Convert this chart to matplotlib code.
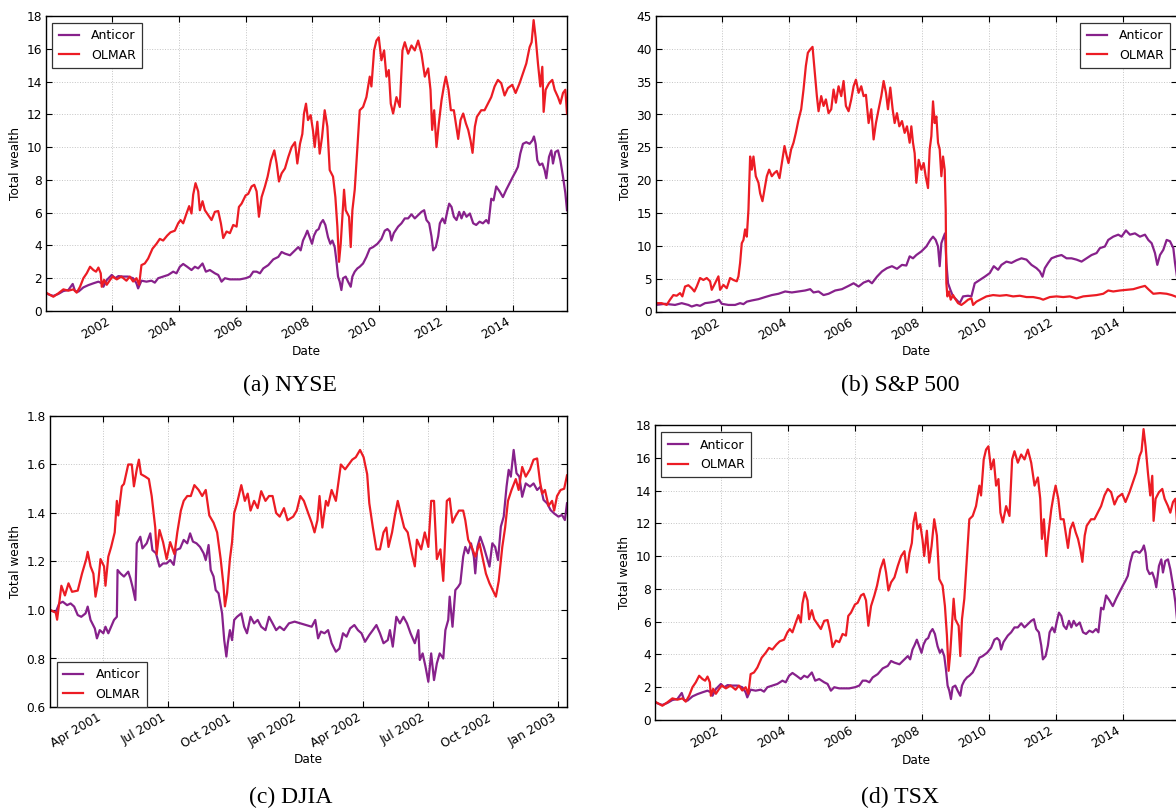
import numpy as np
import pandas as pd
import matplotlib
matplotlib.use('Agg')
import matplotlib.pyplot as plt
import matplotlib.dates as mdates

# ---- NYSE (also shown as TSX) ----
nyse_olmar_years = [2000.02, 2000.14, 2000.24, 2000.39, 2000.54, 2000.69, 2000.84, 2000.94, 2001.04, 2001.14,
                    2001.24, 2001.34, 2001.44, 2001.52, 2001.59, 2001.66, 2001.69, 2001.76, 2001.84, 2001.94,
                    2002.02, 2002.14, 2002.28, 2002.43, 2002.53, 2002.63, 2002.73, 2002.81, 2002.88, 2002.98,
                    2003.08, 2003.21, 2003.33, 2003.43, 2003.53, 2003.65, 2003.75, 2003.88, 2003.98, 2004.05,
                    2004.13, 2004.23, 2004.31, 2004.38, 2004.43, 2004.50, 2004.58, 2004.63, 2004.71, 2004.78,
                    2004.88, 2004.98, 2005.08, 2005.18, 2005.26, 2005.33, 2005.43, 2005.53, 2005.63, 2005.73,
                    2005.80, 2005.88, 2006.00, 2006.08, 2006.18, 2006.26, 2006.33, 2006.40, 2006.48, 2006.58,
                    2006.66, 2006.76, 2006.86, 2006.93, 2007.00, 2007.08, 2007.18, 2007.28, 2007.38, 2007.48,
                    2007.55, 2007.63, 2007.70, 2007.75, 2007.81, 2007.87, 2007.95, 2008.02, 2008.07, 2008.15,
                    2008.22, 2008.29, 2008.37, 2008.45, 2008.52, 2008.62, 2008.69, 2008.75, 2008.80, 2008.85,
                    2008.90, 2008.95, 2009.00, 2009.05, 2009.10, 2009.15, 2009.20, 2009.27, 2009.35, 2009.42,
                    2009.52, 2009.62, 2009.72, 2009.77, 2009.85, 2009.92, 2009.99, 2010.07, 2010.15, 2010.22,
                    2010.29, 2010.35, 2010.42, 2010.52, 2010.62, 2010.70, 2010.77, 2010.87, 2010.97, 2011.07,
                    2011.17, 2011.27, 2011.37, 2011.47, 2011.54, 2011.59, 2011.65, 2011.72, 2011.79, 2011.87,
                    2011.94, 2012.00, 2012.08, 2012.15, 2012.24, 2012.30, 2012.37, 2012.44, 2012.52, 2012.60,
                    2012.67, 2012.74, 2012.80, 2012.87, 2012.93, 2013.06, 2013.16, 2013.26, 2013.36, 2013.46,
                    2013.56, 2013.66, 2013.76, 2013.86, 2013.99, 2014.09, 2014.21, 2014.31, 2014.41, 2014.51,
                    2014.57, 2014.63, 2014.69, 2014.76, 2014.83, 2014.89, 2014.93, 2014.99, 2015.09, 2015.19,
                    2015.26, 2015.36, 2015.43, 2015.51, 2015.58, 2015.63]
nyse_olmar = [1.12, 0.98, 0.87, 1.08, 1.32, 1.24, 1.32, 1.12, 1.48, 2.0,
              2.3, 2.7, 2.5, 2.4, 2.65, 2.3, 1.48, 1.9, 1.6, 1.9,
              2.1, 1.93, 2.1, 1.85, 2.1, 1.8, 2.0, 1.6, 2.8, 2.9,
              3.2, 3.8, 4.1, 4.4, 4.3, 4.6, 4.8, 4.9, 5.35, 5.55,
              5.35, 5.95, 6.4, 5.95, 7.1, 7.8, 7.3, 6.15, 6.7, 6.15,
              5.85, 5.55, 6.05, 6.1, 5.35, 4.45, 4.85, 4.75, 5.25, 5.15,
              6.35, 6.55, 7.05, 7.15, 7.6, 7.7, 7.3, 5.75, 6.95, 7.6,
              8.2, 9.2, 9.8, 9.0, 7.9, 8.4, 8.7, 9.4, 10.0, 10.3,
              9.0, 10.2, 10.8, 12.05, 12.65, 11.65, 11.95, 11.0, 10.0, 11.55,
              9.6, 10.6, 12.25, 11.25, 8.6, 8.2, 6.95, 5.15, 3.0, 4.1,
              5.75, 7.4, 6.15, 5.95, 5.75, 3.9, 6.15, 7.4, 10.0, 12.25,
              12.45, 13.05, 14.3, 13.7, 15.9, 16.5, 16.7, 15.3, 15.9, 14.3,
              14.7, 12.65, 12.05, 13.05, 12.45, 15.9, 16.4, 15.7, 16.2, 15.9,
              16.5, 15.7, 14.3, 14.8, 13.5, 11.05, 12.25, 10.0, 11.45, 12.85,
              13.7, 14.3, 13.5, 12.25, 12.25, 11.45, 10.5, 11.65, 12.05, 11.45,
              11.05, 10.4, 9.65, 11.25, 11.85, 12.25, 12.25, 12.65, 13.05, 13.7,
              14.1, 13.9, 13.15, 13.6, 13.8, 13.3, 13.9, 14.5, 15.1, 16.1,
              16.4, 17.75, 16.7, 15.1, 13.7, 14.9, 12.15, 13.5, 13.9, 14.1,
              13.5, 13.05, 12.65, 13.3, 13.5, 12.05]

nyse_anticor_years = [2000.02, 2000.14, 2000.24, 2000.39, 2000.54, 2000.69, 2000.82, 2000.89, 2000.99, 2001.14,
                      2001.29, 2001.44, 2001.59, 2001.69, 2001.74, 2001.84, 2001.99, 2002.09, 2002.19, 2002.33,
                      2002.48, 2002.63, 2002.73, 2002.78, 2002.88, 2003.03, 2003.18, 2003.28, 2003.38, 2003.53,
                      2003.68, 2003.83, 2003.93, 2004.03, 2004.13, 2004.25, 2004.38, 2004.48, 2004.58, 2004.71,
                      2004.81, 2004.93, 2005.08, 2005.18, 2005.28, 2005.38, 2005.53, 2005.68, 2005.83, 2006.00,
                      2006.13, 2006.23, 2006.33, 2006.43, 2006.53, 2006.68, 2006.83, 2006.98, 2007.08, 2007.18,
                      2007.33, 2007.48, 2007.58, 2007.65, 2007.72, 2007.79, 2007.85, 2007.92, 2007.99, 2008.05,
                      2008.12, 2008.19, 2008.25, 2008.32, 2008.39, 2008.47, 2008.54, 2008.60, 2008.67, 2008.72,
                      2008.77, 2008.82, 2008.87, 2008.92, 2009.00, 2009.07, 2009.15, 2009.20, 2009.27, 2009.35,
                      2009.42, 2009.52, 2009.62, 2009.72, 2009.82, 2009.95, 2010.07, 2010.17, 2010.25, 2010.32,
                      2010.37, 2010.44, 2010.57, 2010.67, 2010.77, 2010.87, 2010.97, 2011.07, 2011.17, 2011.27,
                      2011.35, 2011.42, 2011.50, 2011.57, 2011.62, 2011.70, 2011.77, 2011.82, 2011.90, 2011.97,
                      2012.04, 2012.10, 2012.17, 2012.24, 2012.32, 2012.40, 2012.47, 2012.54, 2012.62, 2012.72,
                      2012.82, 2012.91, 2013.01, 2013.11, 2013.21, 2013.28, 2013.36, 2013.43, 2013.51, 2013.61,
                      2013.71, 2013.81, 2013.91, 2014.01, 2014.09, 2014.16, 2014.23, 2014.31, 2014.41, 2014.51,
                      2014.59, 2014.64, 2014.69, 2014.74, 2014.81, 2014.89, 2014.96, 2015.01, 2015.09, 2015.16,
                      2015.21, 2015.28, 2015.36, 2015.43, 2015.51, 2015.58, 2015.63]
nyse_anticor = [1.08, 0.98, 0.92, 1.04, 1.22, 1.28, 1.65, 1.22, 1.18, 1.44,
                1.58, 1.69, 1.79, 1.69, 1.48, 1.89, 2.2, 2.0, 2.13, 2.1,
                2.1, 2.0, 1.69, 1.38, 1.85, 1.79, 1.85, 1.73, 2.0, 2.1,
                2.2, 2.4, 2.3, 2.7, 2.87, 2.7, 2.5, 2.7, 2.6, 2.9,
                2.4, 2.5, 2.3, 2.2, 1.79, 2.0, 1.93, 1.93, 1.93, 2.0,
                2.1, 2.4, 2.4, 2.3, 2.6, 2.8, 3.15, 3.3, 3.6, 3.5,
                3.4, 3.7, 3.9, 3.7, 4.3, 4.6, 4.9, 4.5, 4.1, 4.6,
                4.9, 5.0, 5.35, 5.55, 5.25, 4.5, 4.1, 4.3, 3.9, 3.1,
                2.1, 1.79, 1.28, 2.0, 2.1, 1.79, 1.48, 2.1, 2.4, 2.6,
                2.7, 2.9, 3.3, 3.8, 3.9, 4.1, 4.4, 4.9, 5.0, 4.85,
                4.3, 4.75, 5.15, 5.35, 5.65, 5.65, 5.9, 5.65, 5.85, 6.05,
                6.15, 5.55, 5.35, 4.55, 3.7, 3.9, 4.55, 5.35, 5.65, 5.35,
                6.05, 6.55, 6.35, 5.75, 5.55, 6.05, 5.65, 6.05, 5.75, 5.95,
                5.35, 5.25, 5.45, 5.35, 5.55, 5.35, 6.85, 6.75, 7.6, 7.3,
                6.95, 7.4, 7.8, 8.2, 8.5, 8.8, 9.6, 10.2, 10.3, 10.2,
                10.4, 10.65, 10.2, 9.2, 8.9, 9.0, 8.6, 8.1, 9.4, 9.8,
                9.0, 9.7, 9.8, 9.2, 8.2, 7.2, 6.15]

# ---- S&P 500 ----
sp_olmar_years = [2000.02, 2000.19, 2000.34, 2000.44, 2000.54, 2000.64, 2000.74, 2000.81, 2000.89, 2000.99,
                  2001.09, 2001.17, 2001.24, 2001.34, 2001.44, 2001.54, 2001.64, 2001.69, 2001.79, 2001.89,
                  2001.94, 2002.04, 2002.14, 2002.24, 2002.34, 2002.44, 2002.49, 2002.54, 2002.59, 2002.64,
                  2002.69, 2002.74, 2002.79, 2002.84, 2002.89, 2002.94, 2003.01, 2003.09, 2003.14, 2003.21,
                  2003.27, 2003.34, 2003.41, 2003.49, 2003.57, 2003.64, 2003.72, 2003.79, 2003.87, 2003.94,
                  2003.99, 2004.07, 2004.14, 2004.21, 2004.29, 2004.37, 2004.44, 2004.51, 2004.57, 2004.64,
                  2004.71, 2004.77, 2004.84, 2004.89, 2004.97, 2005.04, 2005.11, 2005.19, 2005.27, 2005.34,
                  2005.41, 2005.49, 2005.57, 2005.64, 2005.71, 2005.79, 2005.87, 2005.94, 2006.01, 2006.09,
                  2006.17, 2006.24, 2006.31, 2006.39, 2006.47, 2006.54, 2006.61, 2006.69, 2006.77, 2006.84,
                  2006.91, 2006.97, 2007.04, 2007.11, 2007.17, 2007.24, 2007.31, 2007.39, 2007.47, 2007.54,
                  2007.62, 2007.67, 2007.72, 2007.77, 2007.82, 2007.89, 2007.97, 2008.04, 2008.10, 2008.17,
                  2008.22, 2008.27, 2008.32, 2008.37, 2008.42, 2008.47, 2008.52, 2008.57, 2008.62, 2008.67,
                  2008.70, 2008.72, 2008.75, 2008.80, 2008.85, 2008.92, 2009.00, 2009.07, 2009.17, 2009.27,
                  2009.37, 2009.47, 2009.52, 2009.62, 2009.77, 2009.92, 2010.12, 2010.32, 2010.52, 2010.72,
                  2010.92, 2011.12, 2011.32, 2011.52, 2011.62, 2011.82, 2012.02, 2012.22, 2012.42, 2012.62,
                  2012.82, 2013.02, 2013.22, 2013.42, 2013.57, 2013.72, 2013.92, 2014.12, 2014.32, 2014.52,
                  2014.67, 2014.77, 2014.92, 2015.12, 2015.32, 2015.47, 2015.63]
sp_olmar = [1.27, 1.27, 1.0, 1.8, 2.5, 2.4, 2.8, 2.3, 3.8, 4.0,
            3.55, 3.05, 3.8, 5.1, 4.8, 5.1, 4.6, 3.3, 4.3, 5.35,
            3.3, 4.05, 3.55, 5.1, 4.8, 4.6, 5.35, 7.4, 10.4, 10.9,
            12.5, 11.4, 15.5, 23.6, 21.6, 23.6, 20.6, 19.6, 18.0, 16.8,
            18.6, 20.6, 21.6, 20.6, 21.1, 21.4, 20.3, 22.6, 25.2, 23.6,
            22.6, 24.7, 25.7, 27.2, 29.2, 30.8, 33.8, 37.4, 39.4, 39.9,
            40.3, 36.9, 32.8, 30.5, 32.8, 31.3, 32.3, 30.2, 30.8, 33.8,
            31.8, 34.3, 32.8, 35.1, 31.3, 30.5, 32.3, 34.3, 35.3, 33.3,
            34.3, 32.8, 33.0, 28.7, 30.8, 26.2, 28.7, 30.8, 32.8, 35.1,
            33.3, 30.8, 34.1, 30.8, 28.7, 30.2, 28.2, 29.0, 27.2, 28.2,
            25.7, 28.2, 25.7, 24.1, 19.6, 23.1, 21.6, 22.6, 20.6, 18.8,
            24.7, 26.7, 32.0, 28.7, 29.7, 25.7, 24.7, 20.6, 23.6, 21.6,
            15.5, 4.3, 2.3, 3.05, 1.8, 2.5, 1.8, 1.27, 1.0, 1.37,
            1.8, 2.0, 1.0, 1.5, 1.9, 2.3, 2.5, 2.4, 2.5, 2.3,
            2.4, 2.2, 2.2, 2.0, 1.8, 2.2, 2.3, 2.2, 2.3, 2.0,
            2.3, 2.4, 2.5, 2.7, 3.2, 3.05, 3.2, 3.3, 3.4, 3.7,
            3.9, 3.4, 2.7, 2.8, 2.7, 2.5, 2.2]

sp_anticor_years = [2000.02, 2000.29, 2000.59, 2000.79, 2000.99, 2001.09, 2001.24, 2001.34, 2001.49, 2001.64,
                    2001.79, 2001.91, 2001.99, 2002.19, 2002.39, 2002.54, 2002.64, 2002.74, 2002.89, 2003.09,
                    2003.29, 2003.49, 2003.69, 2003.89, 2004.09, 2004.29, 2004.49, 2004.64, 2004.74, 2004.89,
                    2005.04, 2005.19, 2005.39, 2005.59, 2005.79, 2005.94, 2006.09, 2006.24, 2006.39, 2006.49,
                    2006.64, 2006.79, 2006.94, 2007.09, 2007.24, 2007.39, 2007.52, 2007.62, 2007.72, 2007.82,
                    2007.97, 2008.12, 2008.24, 2008.32, 2008.40, 2008.47, 2008.52, 2008.57, 2008.64, 2008.68,
                    2008.72, 2008.77, 2008.84, 2008.92, 2009.02, 2009.12, 2009.22, 2009.37, 2009.47, 2009.57,
                    2009.72, 2009.87, 2010.02, 2010.14, 2010.27, 2010.37, 2010.52, 2010.67, 2010.82, 2010.97,
                    2011.12, 2011.27, 2011.42, 2011.52, 2011.60, 2011.67, 2011.77, 2011.87, 2012.02, 2012.17,
                    2012.32, 2012.47, 2012.62, 2012.77, 2012.92, 2013.07, 2013.22, 2013.32, 2013.47, 2013.57,
                    2013.72, 2013.87, 2013.97, 2014.10, 2014.22, 2014.37, 2014.52, 2014.67, 2014.77, 2014.87,
                    2014.97, 2015.04, 2015.12, 2015.22, 2015.32, 2015.42, 2015.52, 2015.57, 2015.63]
sp_anticor = [1.0, 1.17, 1.0, 1.27, 1.0, 0.76, 1.0, 0.86, 1.27, 1.37,
              1.5, 1.78, 1.17, 1.0, 1.0, 1.27, 1.12, 1.5, 1.68, 1.88,
              2.2, 2.5, 2.7, 3.05, 2.9, 3.05, 3.2, 3.4, 2.9, 3.05,
              2.5, 2.7, 3.2, 3.4, 3.9, 4.3, 3.8, 4.4, 4.7, 4.3,
              5.3, 6.1, 6.6, 6.9, 6.5, 7.1, 7.0, 8.4, 8.1, 8.6,
              9.15, 9.9, 10.9, 11.4, 10.9, 9.9, 6.9, 10.4, 11.4, 11.9,
              7.4, 4.3, 3.3, 2.3, 1.8, 1.27, 2.3, 2.4, 2.3, 4.3,
              4.8, 5.3, 5.85, 6.9, 6.35, 7.1, 7.6, 7.4, 7.8, 8.1,
              7.9, 7.1, 6.6, 6.1, 5.3, 6.6, 7.4, 8.1, 8.4, 8.6,
              8.1, 8.1, 7.9, 7.6, 8.1, 8.6, 8.9, 9.65, 9.9, 10.9,
              11.4, 11.7, 11.4, 12.35, 11.7, 11.9, 11.4, 11.7, 10.9, 10.4,
              8.9, 7.1, 8.6, 9.4, 10.9, 10.7, 9.65, 7.4, 5.3]

# ---- DJIA (days after 2001-01-14) ----
djia_olmar_days = [2, 10, 12, 18, 23, 28, 33, 41, 47, 53, 55, 59, 63, 66, 70, 73, 78, 80, 84, 88,
                   93, 96, 98, 103, 106, 112, 117, 120, 124, 127, 130, 136, 141, 145, 150, 152, 156, 161, 166, 171,
                   177, 181, 186, 190, 195, 200, 205, 211, 216, 221, 226, 232, 237, 242, 246, 248, 251, 255, 258, 261,
                   265, 271, 276, 280, 284, 289, 294, 299, 305, 310, 315, 320, 325, 331, 336, 344, 349, 354, 359, 365,
                   370, 374, 378, 381, 385, 390, 393, 398, 404, 407, 411, 417, 422, 427, 432, 438, 443, 448, 451, 456,
                   461, 466, 471, 475, 478, 483, 487, 491, 495, 500, 505, 511, 515, 518, 524, 529, 534, 538, 542, 546,
                   551, 555, 560, 564, 568, 572, 577, 583, 586, 590, 595, 600, 606, 610, 615, 620, 625, 629, 633, 638,
                   642, 646, 651, 657, 661, 666, 671, 677, 682, 687, 691, 694, 698, 703, 708, 711, 715, 720, 725, 729]
djia_olmar = [1.0, 0.99, 0.96, 1.1, 1.06, 1.11, 1.075, 1.08, 1.15, 1.21, 1.24, 1.18, 1.15, 1.055, 1.12, 1.21, 1.18, 1.10, 1.22, 1.26,
              1.32, 1.45, 1.39, 1.51, 1.52, 1.6, 1.6, 1.51, 1.58, 1.62, 1.56, 1.55, 1.54, 1.47, 1.34, 1.23, 1.33, 1.28, 1.21, 1.28,
              1.23, 1.32, 1.41, 1.45, 1.47, 1.47, 1.515, 1.495, 1.47, 1.495, 1.39, 1.36, 1.32, 1.21, 1.1, 1.015, 1.07, 1.21, 1.28, 1.4,
              1.44, 1.515, 1.45, 1.48, 1.41, 1.45, 1.42, 1.49, 1.45, 1.47, 1.47, 1.4, 1.385, 1.42, 1.37, 1.385, 1.41, 1.47, 1.45, 1.4,
              1.36, 1.32, 1.37, 1.47, 1.34, 1.45, 1.43, 1.495, 1.45, 1.515, 1.6, 1.58, 1.6, 1.62, 1.63, 1.66, 1.63, 1.56, 1.44, 1.34,
              1.25, 1.25, 1.32, 1.34, 1.26, 1.32, 1.39, 1.45, 1.4, 1.34, 1.32, 1.23, 1.18, 1.29, 1.25, 1.32, 1.26, 1.45, 1.45, 1.21,
              1.25, 1.12, 1.45, 1.46, 1.36, 1.385, 1.41, 1.41, 1.37, 1.29, 1.26, 1.22, 1.275, 1.22, 1.15, 1.11, 1.08, 1.055, 1.12, 1.26,
              1.34, 1.45, 1.495, 1.54, 1.495, 1.59, 1.55, 1.58, 1.62, 1.625, 1.53, 1.48, 1.495, 1.43, 1.45, 1.41, 1.47, 1.495, 1.5, 1.555]

djia_anticor_days = [2, 10, 15, 20, 26, 31, 36, 41, 46, 52, 55, 59, 65, 68, 72, 77, 80, 84, 88, 92,
                     96, 97, 101, 106, 112, 115, 118, 122, 124, 129, 132, 138, 143, 146, 151, 156, 161, 166, 171, 176,
                     179, 185, 190, 195, 199, 203, 208, 213, 218, 221, 225, 228, 232, 235, 239, 244, 247, 250, 252, 255,
                     258, 261, 265, 271, 275, 279, 284, 289, 294, 299, 305, 310, 315, 320, 325, 331, 338, 346, 354, 362,
                     370, 375, 379, 383, 388, 393, 398, 404, 409, 414, 419, 424, 430, 435, 440, 445, 451, 456, 461, 466,
                     471, 477, 480, 484, 489, 494, 499, 504, 509, 515, 520, 522, 526, 530, 534, 538, 542, 546, 550, 555,
                     558, 562, 564, 568, 572, 576, 579, 583, 586, 590, 594, 598, 600, 603, 607, 612, 616, 620, 624, 628,
                     632, 636, 640, 644, 647, 650, 654, 658, 662, 666, 671, 677, 682, 687, 692, 696, 701, 706, 711, 717,
                     722, 726, 729]
djia_anticor = [1.0, 0.99, 1.027, 1.034, 1.02, 1.027, 1.014, 0.979, 0.972, 0.986, 1.014, 0.959, 0.924, 0.883, 0.917, 0.904, 0.931, 0.904, 0.931, 0.959,
                0.972, 1.165, 1.151, 1.138, 1.158, 1.131, 1.096, 1.041, 1.275, 1.302, 1.254, 1.275, 1.316, 1.247, 1.234, 1.179, 1.192, 1.192, 1.206, 1.186,
                1.247, 1.254, 1.289, 1.275, 1.316, 1.282, 1.275, 1.26, 1.234, 1.206, 1.268, 1.165, 1.138, 1.082, 1.069, 0.986, 0.876, 0.808, 0.863, 0.917,
                0.876, 0.959, 0.972, 0.986, 0.931, 0.904, 0.972, 0.945, 0.959, 0.931, 0.917, 0.972, 0.945, 0.917, 0.931, 0.917, 0.945, 0.952, 0.945, 0.938,
                0.931, 0.959, 0.883, 0.911, 0.904, 0.917, 0.863, 0.828, 0.841, 0.904, 0.89, 0.924, 0.938, 0.917, 0.904, 0.869, 0.897, 0.917, 0.938, 0.904,
                0.863, 0.876, 0.917, 0.849, 0.972, 0.945, 0.972, 0.945, 0.904, 0.863, 0.917, 0.794, 0.821, 0.767, 0.704, 0.821, 0.711, 0.78, 0.821, 0.80,
                0.917, 0.959, 1.055, 0.931, 1.082, 1.096, 1.11, 1.22, 1.26, 1.234, 1.275, 1.22, 1.151, 1.26, 1.302, 1.26, 1.22, 1.179, 1.275, 1.26,
                1.206, 1.344, 1.385, 1.509, 1.578, 1.55, 1.66, 1.564, 1.55, 1.467, 1.522, 1.509, 1.522, 1.495, 1.509, 1.454, 1.44, 1.412, 1.398, 1.385,
                1.392, 1.371, 1.44]

# TSX panel shows the same curves as NYSE
tsx_olmar_years, tsx_olmar = nyse_olmar_years, nyse_olmar
tsx_anticor_years, tsx_anticor = nyse_anticor_years, nyse_anticor

anticor_color = '#87218B'
olmar_color = '#EC1C24'


def to_dates(years):
    years = np.asarray(years, dtype=float)
    return pd.Timestamp('2000-01-01') + pd.to_timedelta((years - 2000) * 365.25, unit='D')


def djia_dates(days):
    return pd.Timestamp('2001-01-14') + pd.to_timedelta(np.asarray(days), unit='D')


def style_axes(ax, ymax, ystep, ymin=0):
    ax.set_ylim(ymin, ymax)
    ax.set_yticks(np.arange(ymin, ymax + ystep / 2, ystep))
    ax.grid(True, color='#c4c4c4', linestyle=':', linewidth=0.7)
    ax.tick_params(direction='in', top=True, right=True, length=4, width=0.8, labelsize=8.7, pad=3)
    for s in ax.spines.values():
        s.set_linewidth(1.0)
    ax.set_xlabel('Date', fontsize=8.7, labelpad=2)
    ax.set_ylabel('Total wealth', fontsize=8.7, labelpad=3)
    plt.setp(ax.get_xticklabels(), rotation=30, ha='right')


def add_legend(ax, loc, anchor):
    leg = ax.legend(loc=loc, bbox_to_anchor=anchor, borderaxespad=0, fontsize=9,
                    handlelength=1.6, handletextpad=1.0, borderpad=0.5, labelspacing=0.5,
                    fancybox=False, framealpha=1)
    leg.get_frame().set_edgecolor('#333333')
    leg.get_frame().set_linewidth(0.9)


fig = plt.figure(figsize=(11.76, 8.11), dpi=100)
W, H = 1176.0, 811.0

def make_axes(x0, x1, top, bottom):
    return fig.add_axes([x0 / W, 1 - bottom / H, (x1 - x0) / W, (bottom - top) / H])

ax_a = make_axes(46, 567, 16, 311)
ax_b = make_axes(656, 1177, 16, 311.5)
ax_c = make_axes(50, 567, 416, 707)
ax_d = make_axes(655, 1177, 425, 720)

year_panels = [
    (ax_a, nyse_anticor_years, nyse_anticor, nyse_olmar_years, nyse_olmar, 18, 2),
    (ax_b, sp_anticor_years, sp_anticor, sp_olmar_years, sp_olmar, 45, 5),
    (ax_d, tsx_anticor_years, tsx_anticor, tsx_olmar_years, tsx_olmar, 18, 2),
]
for ax, ay, av, oy, ov, ymax, ystep in year_panels:
    ad, od = to_dates(ay), to_dates(oy)
    ax.plot(ad, av, color=anticor_color, lw=1.6, label='Anticor')
    ax.plot(od, ov, color=olmar_color, lw=1.6, label='OLMAR')
    ax.set_xlim(min(ad.min(), od.min()), max(ad.max(), od.max()))
    ax.xaxis.set_major_locator(mdates.YearLocator(2))
    ax.xaxis.set_major_formatter(mdates.DateFormatter('%Y'))
    style_axes(ax, ymax, ystep)

ad, od = djia_dates(djia_anticor_days), djia_dates(djia_olmar_days)
ax_c.plot(ad, djia_anticor, color=anticor_color, lw=1.6, label='Anticor')
ax_c.plot(od, djia_olmar, color=olmar_color, lw=1.6, label='OLMAR')
ax_c.set_xlim(min(ad.min(), od.min()), max(ad.max(), od.max()))
ax_c.xaxis.set_major_locator(mdates.MonthLocator(bymonth=[1, 4, 7, 10]))
ax_c.xaxis.set_major_formatter(mdates.DateFormatter('%b %Y'))
style_axes(ax_c, 1.8, 0.2, ymin=0.6)

add_legend(ax_a, 'upper left', (0.012, 0.976))
add_legend(ax_b, 'upper right', (0.987, 0.976))
add_legend(ax_c, 'lower left', (0.013, 0.0))
add_legend(ax_d, 'upper left', (0.012, 0.975))

captions = [(290, 385, '(a) NYSE'), (900, 385, '(b) S&P 500'),
            (291, 797, '(c) DJIA'), (900, 797, '(d) TSX')]
for cx, cy, text in captions:
    fig.text(cx / W, 1 - cy / H, text, ha='center', va='center',
             family='Liberation Serif', fontsize=17)

fig.savefig('out.png', dpi=100)
